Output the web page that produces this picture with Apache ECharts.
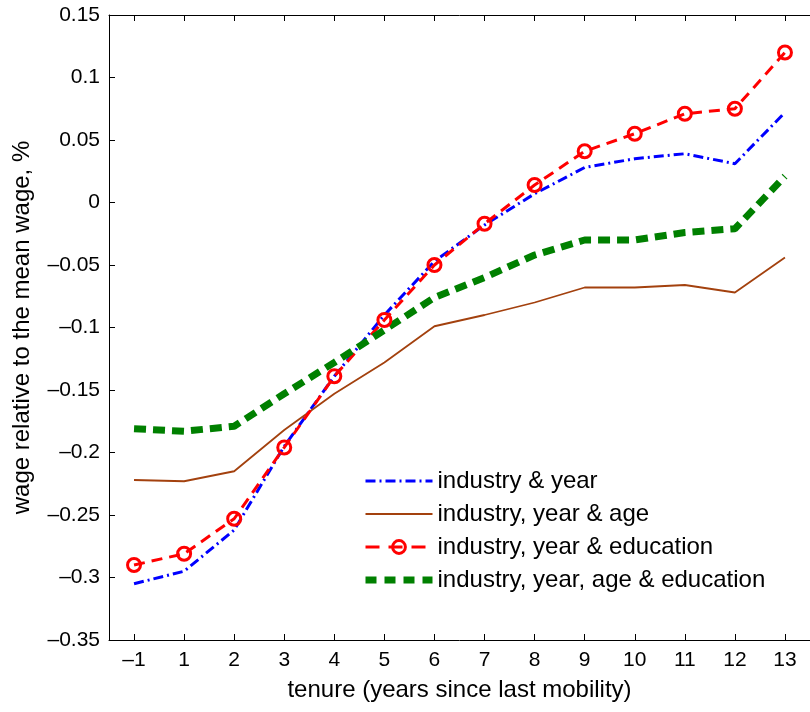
<!DOCTYPE html>
<html>
<head>
<meta charset="utf-8">
<script src="https://cdn.jsdelivr.net/npm/echarts@6/dist/echarts.min.js"></script>
<style>
  html, body { margin: 0; padding: 0; background: #fff; }
  #chart { width: 810px; height: 712px; }
</style>
</head>
<body>
<div id="chart"></div>
<script>
// tenure categories (no 0 in the original)
let tenure = ['-1', '1', '2', '3', '4', '5', '6', '7', '8', '9', '10', '11', '12', '13'];

let industry_year = [-0.305, -0.295, -0.262, -0.195, -0.139, -0.090, -0.047, -0.018, 0.007, 0.028, 0.035, 0.039, 0.031, 0.072];
let industry_year_age = [-0.222, -0.223, -0.215, -0.182, -0.153, -0.128, -0.099, -0.090, -0.080, -0.068, -0.068, -0.066, -0.072, -0.044];
let industry_year_edu = [-0.290, -0.281, -0.253, -0.196, -0.139, -0.094, -0.050, -0.017, 0.014, 0.041, 0.055, 0.071, 0.075, 0.120];
let industry_year_age_edu = [-0.181, -0.183, -0.179, -0.153, -0.128, -0.102, -0.076, -0.060, -0.042, -0.030, -0.030, -0.024, -0.021, 0.021];

let names = [
    'industry & year',
    'industry, year & age',
    'industry, year & education',
    'industry, year, age & education'
];

function dash(s) {
    return String(s).replace('-', '\u2013');
}

var myChart = echarts.init(document.getElementById('chart'));
var font = 'Liberation Sans, Arial, Helvetica, sans-serif';

// line styles, shared by series and legend
var blueLine = { color: '#0000ff', width: 3, type: [10, 4, 2, 4] };
var brownLine = { color: '#a3410e', width: 1.8, type: 'solid' };
var redLine = { color: '#ff0000', width: 3, type: [11, 7] };
var greenLine = { color: '#008000', width: 7, type: [12, 7] };
var noMark = { color: 'rgba(0,0,0,0)', borderColor: 'rgba(0,0,0,0)', borderWidth: 0 };

var option = {
    animation: false,
    textStyle: { fontFamily: font },
    grid: { left: 109, right: -10, top: 15, bottom: 72 },
    legend: {
        orient: 'vertical',
        left: 357,
        top: 464,
        itemWidth: 67,
        itemHeight: 16,
        itemGap: 9,
        textStyle: { fontSize: 24, color: '#000', fontFamily: font },
        data: [
            { name: names[0], lineStyle: blueLine, itemStyle: noMark },
            { name: names[1], lineStyle: brownLine, itemStyle: noMark },
            { name: names[2], lineStyle: { color: '#ff0000', width: 3, type: [14, 9] },
              itemStyle: { color: 'rgba(255,255,255,0)', borderColor: '#ff0000', borderWidth: 3 } },
            { name: names[3], lineStyle: { color: '#008000', width: 7, type: [11, 8] }, itemStyle: noMark }
        ]
    },
    xAxis: [{
        type: 'category',
        data: tenure,
        boundaryGap: true,
        name: 'tenure (years since last mobility)',
        nameLocation: 'middle',
        nameGap: 38,
        nameTextStyle: { fontSize: 24, color: '#000' },
        axisLine: { onZero: false, lineStyle: { color: '#000', width: 1 } },
        axisTick: { show: true, inside: true, alignWithLabel: true, length: 6, lineStyle: { color: '#000' } },
        axisLabel: { fontSize: 21, color: '#000', margin: 10, formatter: dash },
        splitLine: { show: false }
    }, {
        type: 'category',
        data: tenure,
        position: 'top',
        boundaryGap: true,
        axisLine: { onZero: false, lineStyle: { color: '#000', width: 1 } },
        axisTick: { show: true, inside: true, alignWithLabel: true, length: 6, lineStyle: { color: '#000' } },
        axisLabel: { show: false },
        splitLine: { show: false }
    }],
    yAxis: {
        type: 'value',
        min: -0.35,
        max: 0.15,
        interval: 0.05,
        name: 'wage relative to the mean wage, %',
        nameLocation: 'middle',
        nameGap: 75,
        nameTextStyle: { fontSize: 24, color: '#000' },
        axisLine: { show: true, onZero: false, lineStyle: { color: '#000', width: 1 } },
        axisTick: { show: true, inside: true, length: 6, lineStyle: { color: '#000' } },
        axisLabel: { fontSize: 21, color: '#000', margin: 9, formatter: dash },
        splitLine: { show: false }
    },
    series: [
        {
            name: names[0],
            type: 'line',
            data: industry_year,
            symbol: 'none',
            itemStyle: { color: '#0000ff' },
            lineStyle: blueLine
        },
        {
            name: names[1],
            type: 'line',
            data: industry_year_age,
            symbol: 'none',
            itemStyle: { color: '#a3410e' },
            lineStyle: brownLine
        },
        {
            name: names[2],
            type: 'line',
            data: industry_year_edu,
            symbol: 'circle',
            symbolSize: 13,
            itemStyle: { color: 'rgba(255,255,255,0)', borderColor: '#ff0000', borderWidth: 3 },
            lineStyle: redLine
        },
        {
            name: names[3],
            type: 'line',
            data: industry_year_age_edu,
            symbol: 'none',
            itemStyle: { color: '#008000' },
            lineStyle: greenLine
        }
    ]
};

myChart.setOption(option);
</script>
</body>
</html>
